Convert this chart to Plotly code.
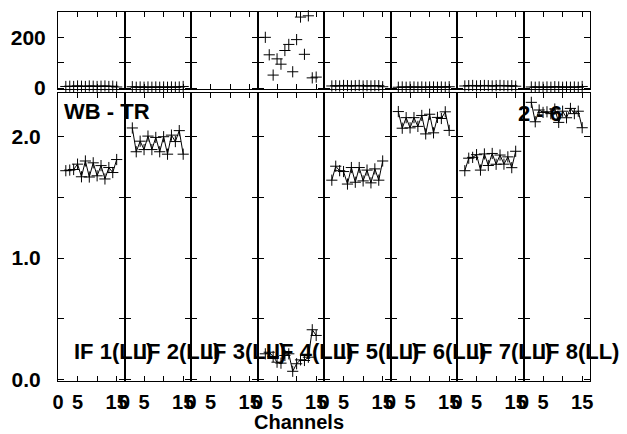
import plotly.graph_objects as go

# channels plotted in every IF panel
channels = list(range(2, 16))

if_labels = ["IF 1(LL)", "IF 2(LL)", "IF 3(LL)", "IF 4(LL)",
             "IF 5(LL)", "IF 6(LL)", "IF 7(LL)", "IF 8(LL)"]

# phase (degrees), top row
phase_if1 = [6, 7, 6, 8, 7, 6, 8, 7, 6, 7, 8, 6, 7, 4]
phase_if2 = [5, 3, 4, 3, 4, 3, 4, 3, 4, 3, 4, 3, 4, 6]
phase_if3 = []
phase_if4 = [200, 131, 51, 115, 94, 148, 172, 64, 191, 280, 133, 285, 40, 43]
phase_if5 = [8, 9, 8, 10, 9, 8, 9, 10, 8, 9, 8, 9, 9, 5]
phase_if6 = [3, 4, 3, 4, 4, 3, 4, 3, 4, 4, 3, 4, 3, 5]
phase_if7 = [8, 9, 10, 8, 9, 10, 9, 8, 9, 10, 9, 8, 9, 7]
phase_if8 = [4, 3, 4, 3, 4, 3, 5, 4, 3, 4, 3, 4, 3, 6]

# amplitude, bottom row
amp_if1 = [1.72, 1.725, 1.73, 1.774, 1.67, 1.80, 1.668, 1.785, 1.678, 1.762, 1.652, 1.746, 1.705, 1.812]
amp_if2 = [2.072, 1.876, 1.963, 1.894, 2.005, 1.894, 1.994, 1.876, 2.0, 1.856, 2.013, 1.96, 2.05, 1.856]
amp_if3 = []
amp_if4 = [0.212, 0.225, 0.19, 0.143, 0.135, 0.198, 0.212, 0.068, 0.13, 0.162, 0.157, 0.184, 0.41, 0.363]
amp_if5 = [1.642, 1.757, 1.72, 1.713, 1.61, 1.746, 1.625, 1.746, 1.636, 1.725, 1.62, 1.735, 1.642, 1.80]
amp_if6 = [2.207, 2.07, 2.157, 2.073, 2.157, 2.085, 2.175, 2.023, 2.185, 2.032, 2.159, 2.15, 2.205, 2.052]
amp_if7 = [1.72, 1.823, 1.83, 1.852, 1.725, 1.858, 1.763, 1.862, 1.773, 1.849, 1.774, 1.834, 1.745, 1.88]
amp_if8 = [2.283, 2.123, 2.22, 2.20, 2.205, 2.19, 2.228, 2.118, 2.21, 2.156, 2.233, 2.19, 2.21, 2.074]

phases = [phase_if1, phase_if2, phase_if3, phase_if4, phase_if5, phase_if6, phase_if7, phase_if8]
amps = [amp_if1, amp_if2, amp_if3, amp_if4, amp_if5, amp_if6, amp_if7, amp_if8]

FONT = "Liberation Sans"
n = len(if_labels)
fig = go.Figure()

for k in range(n):
    top = k + 1
    bot = k + 1 + n
    # IF 4 phases are scattered, drawn as crosses only
    top_mode = "markers" if k == 3 else "lines+markers"
    fig.add_trace(go.Scatter(
        x=channels[:len(phases[k])], y=phases[k], mode=top_mode,
        xaxis=f"x{top}", yaxis=f"y{top}", cliponaxis=False,
        line=dict(color="black", width=1),
        marker=dict(symbol="cross-thin", size=8, line=dict(color="black", width=1)),
        showlegend=False))
    fig.add_trace(go.Scatter(
        x=channels[:len(amps[k])], y=amps[k], mode="lines+markers",
        xaxis=f"x{bot}", yaxis=f"y{bot}", cliponaxis=False,
        line=dict(color="black", width=1),
        marker=dict(symbol="cross-thin", size=8, line=dict(color="black", width=1)),
        showlegend=False))

layout = {}
common = dict(showgrid=False, zeroline=False, showline=True, linecolor="black",
              linewidth=1, mirror="ticks", ticks="inside", tickcolor="black",
              tickwidth=1)
for k in range(n):
    top = k + 1
    bot = k + 1 + n
    dom = [k / n, (k + 1) / n]
    layout[f"xaxis{top}"] = dict(common, domain=dom, range=[0, 17], anchor=f"y{top}",
                                 tickvals=[0, 5, 10, 15], ticklen=5, showticklabels=False)
    layout[f"yaxis{top}"] = dict(common, domain=[0.7913, 1], range=[-4, 300], anchor=f"x{top}",
                                 tickvals=[0, 100, 200], ticktext=["0", "", "200"], ticklen=6,
                                 showticklabels=(k == 0), ticklabelstandoff=7,
                                 tickfont=dict(family=FONT, size=21, color="black", weight="bold"))
    layout[f"xaxis{bot}"] = dict(common, domain=dom, range=[0, 17], anchor=f"y{bot}",
                                 tickvals=[0, 5, 10, 15], ticktext=["0", "5", "", "15"], ticklen=5,
                                 ticklabelstandoff=3,
                                 tickfont=dict(family=FONT, size=20, color="black", weight="bold"))
    layout[f"yaxis{bot}"] = dict(common, domain=[0, 0.7805], range=[-0.012, 2.36], anchor=f"x{bot}",
                                 tickvals=[0, 0.5, 1.0, 1.5, 2.0],
                                 ticktext=["0.0", "", "1.0", "", "2.0"], ticklen=6,
                                 showticklabels=(k == 0), ticklabelstandoff=12,
                                 tickfont=dict(family=FONT, size=21, color="black", weight="bold"))

annotations = []
for k in range(n):
    annotations.append(dict(text=if_labels[k], xref=f"x{k + 1 + n}", yref=f"y{k + 1 + n}",
                            x=3.7, y=0.233, xanchor="left", yanchor="middle", showarrow=False,
                            font=dict(family=FONT, size=22, color="black", weight="bold")))
annotations.append(dict(text="WB - TR", xref="x9", yref="y9", x=1.0, y=2.205,
                        xanchor="left", yanchor="middle", showarrow=False,
                        font=dict(family=FONT, size=22, color="black", weight="bold")))
annotations.append(dict(text="2 - 6", xref="paper", yref="paper", x=0.861, y=0.726,
                        xanchor="left", yanchor="middle", showarrow=False,
                        font=dict(family=FONT, size=22, color="black", weight="bold")))
annotations.append(dict(text="Channels", xref="paper", yref="paper", x=0.453, y=-0.111,
                        xanchor="center", yanchor="middle", showarrow=False,
                        font=dict(family=FONT, size=20, color="black", weight="bold")))

fig.update_layout(**layout)
# page body keeps its default 8px margin, so the figure is a bit smaller than the window
fig.update_layout(
    width=619, height=426,
    margin=dict(l=50, r=37, t=4, b=53),
    paper_bgcolor="white", plot_bgcolor="white",
    annotations=annotations,
)

fig.write_html("out.html")
